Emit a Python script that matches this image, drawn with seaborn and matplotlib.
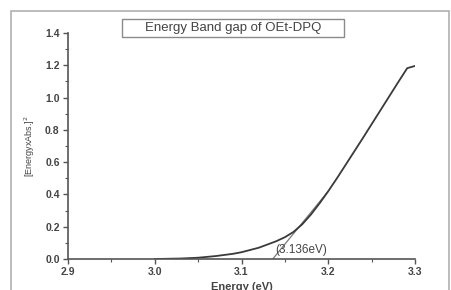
import numpy as np
import pandas as pd
import seaborn as sns
import matplotlib.pyplot as plt
from matplotlib.patches import Rectangle
from matplotlib.ticker import MultipleLocator

# values
energy = [3.00, 3.03, 3.05, 3.07, 3.09, 3.10, 3.12, 3.14, 3.15, 3.16, 3.17,
          3.18, 3.19, 3.20, 3.21, 3.22, 3.24, 3.26, 3.28, 3.291, 3.30]
absorb = [0.0, 0.003, 0.008, 0.018, 0.032, 0.042, 0.07, 0.11, 0.135, 0.168, 0.215,
          0.275, 0.345, 0.42, 0.50, 0.583, 0.75, 0.92, 1.09, 1.182, 1.196]
tangent_x = [3.136, 3.20]
tangent_y = [0.0, 0.42]
gap_label = '(3.136eV)'
title = 'Energy Band gap of OEt-DPQ'

sns.set_style('ticks')
plt.rcParams['font.family'] = ['Liberation Sans', 'DejaVu Sans']

df = pd.DataFrame({'energy': energy, 'val': absorb})
tg = pd.DataFrame({'energy': tangent_x, 'val': tangent_y})

fig = plt.figure(figsize=(4.51, 2.90), dpi=100)
ax = fig.add_axes([68 / 451, 1 - 259 / 290, (415 - 68) / 451, (259 - 33) / 290])

sns.lineplot(data=tg, x='energy', y='val', ax=ax, color='#7a7a7a', linewidth=0.9)
sns.lineplot(data=df, x='energy', y='val', ax=ax, color='#3a3a3a', linewidth=1.3)

ax.set_xlim(2.9, 3.3)
ax.set_ylim(0, 1.4)
ax.xaxis.set_major_locator(MultipleLocator(0.1))
ax.xaxis.set_minor_locator(MultipleLocator(0.05))
ax.yaxis.set_major_locator(MultipleLocator(0.2))
ax.yaxis.set_minor_locator(MultipleLocator(0.1))
ax.xaxis.set_major_formatter(plt.FormatStrFormatter('%.1f'))
ax.yaxis.set_major_formatter(plt.FormatStrFormatter('%.1f'))
ax.tick_params(which='major', direction='out', length=3.5, width=1, colors='#555555',
               labelsize=7.5, labelcolor='#444444', pad=2.5)
ax.tick_params(which='minor', direction='out', length=2, width=0.8, colors='#555555')
for lab in ax.get_xticklabels() + ax.get_yticklabels():
    lab.set_fontweight('bold')
sns.despine(ax=ax)
for s in ['left', 'bottom']:
    ax.spines[s].set_color('#555555')
    ax.spines[s].set_linewidth(1.2)

ax.set_xlabel('Energy (eV)', fontsize=8, fontweight='bold', color='#444444', labelpad=3)
ax.set_ylabel('[EnergyxAbs.]$^2$', fontsize=6.5, color='#444444', labelpad=6)

ax.text(3.1385, 0.02, gap_label, fontsize=8.5, color='#444444', va='bottom', ha='left')

# title box and outer frame
fig.patches.append(Rectangle((122 / 451, 1 - 37 / 290), 222 / 451, 18 / 290,
                             transform=fig.transFigure, fill=False,
                             edgecolor='#8a8a8a', linewidth=1))
fig.text(233 / 451, 1 - 28 / 290, title, ha='center', va='center',
         fontsize=9.5, color='#444444')
fig.patches.append(Rectangle((11 / 451, -0.05), (449 - 11) / 451, 1.05 - 11 / 290,
                             transform=fig.transFigure, fill=False,
                             edgecolor='#b0b0b0', linewidth=1.2))

fig.savefig('out.png', dpi=100)
